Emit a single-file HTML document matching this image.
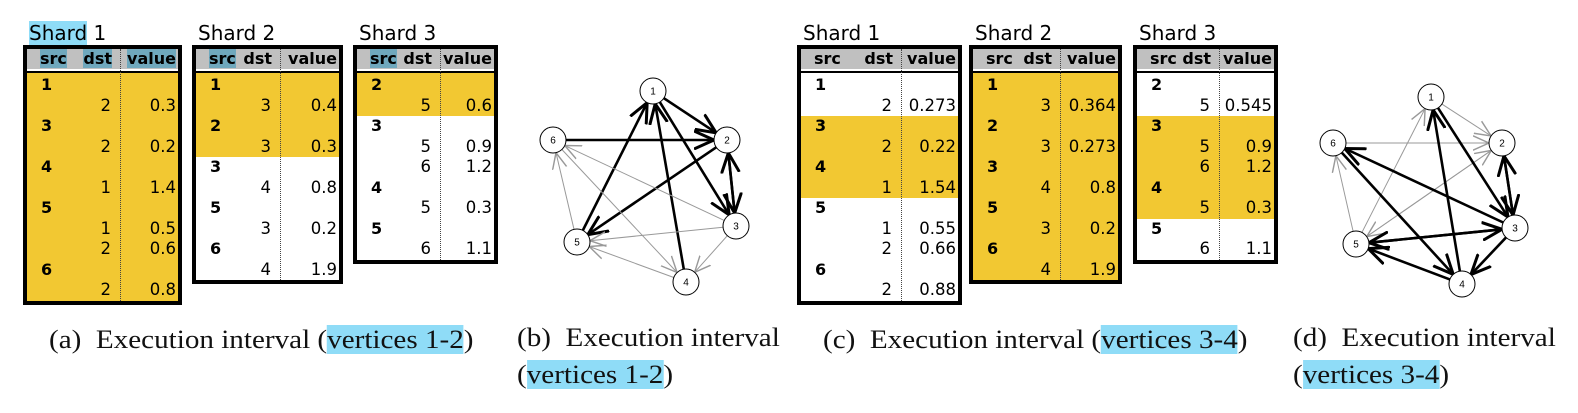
<!DOCTYPE html>
<html><head><meta charset="utf-8">
<style>
body{margin:0;width:1578px;height:413px;background:#fff;position:relative;overflow:hidden;font-family:"DejaVu Sans","Liberation Sans",sans-serif;}
.t{position:absolute;border:4px solid #000;box-sizing:border-box;background:#fff;overflow:hidden;}
.hd{position:absolute;left:0;right:0;top:0;height:20px;background:#c0c0c0;}
.dl{position:absolute;left:0;right:0;top:22px;height:2px;background:#000;}
.tx{position:absolute;font-size:16.5px;line-height:20px;color:#000;white-space:nowrap;}
.b{font-weight:bold;font-size:16px;}
.dv{position:absolute;top:0;bottom:0;width:0;border-left:1px dotted #444;}
.title{position:absolute;font-size:20px;line-height:22px;}
.cap{position:absolute;font-family:"Liberation Serif",serif;font-size:26px;line-height:34px;white-space:nowrap;color:#111;transform:scaleX(1.12);transform-origin:0 0;}
.hl{background:#8fdcf7;}
.hb{background:#6fa8bd;}
</style></head><body>
<div id="root"></div>
<svg id="g" width="1578" height="413" style="position:absolute;left:0;top:0">
<defs>
<marker id="mk" viewBox="0 0 10 10" refX="10" refY="5" markerWidth="20" markerHeight="20" markerUnits="userSpaceOnUse" orient="auto"><path d="M0,0.5 L10,5 L0,9.5" fill="none" stroke="#000" stroke-width="1.5"/></marker>
<marker id="mg" viewBox="0 0 10 10" refX="10" refY="5" markerWidth="16" markerHeight="16" markerUnits="userSpaceOnUse" orient="auto"><path d="M0,0.5 L10,5 L0,9.5" fill="none" stroke="#999" stroke-width="0.9"/></marker>
</defs>
</svg>
<div class="cap" style="left:49px;top:323px">(a)&nbsp; Execution interval (<span class="hl">vertices 1-2</span>)</div>
<div class="cap" style="left:517px;top:321px">(b)&nbsp; Execution interval</div>
<div class="cap" style="left:517px;top:358px">(<span class="hl">vertices 1-2</span>)</div>
<div class="cap" style="left:823px;top:323px">(c)&nbsp; Execution interval (<span class="hl">vertices 3-4</span>)</div>
<div class="cap" style="left:1293px;top:321px">(d)&nbsp; Execution interval</div>
<div class="cap" style="left:1293px;top:358px">(<span class="hl">vertices 3-4</span>)</div>
<script>
var root=document.getElementById('root');
var RH=20.5;
function table(title,titleHl,x,w,div,rows,hs,he,hdHl){
  var h=26+rows.length*RH+8;
  var s='<div class="title" style="left:'+(x+6)+'px;top:22px">'+(titleHl?'<span class="hl">Shard</span> ':'Shard ')+title+'</div>';
  s+='<div class="t" style="left:'+x+'px;top:45px;width:'+w+'px;height:'+h+'px">';
  s+='<div class="hd"></div><div class="dl"></div>';
  var y0=26;
  if(hs>=0){var top=y0+hs*RH-(hs==0?2:0);var hh2=(he-hs+1)*RH+(hs==0?2:0);if(he>=rows.length-1)hh2+=10;
    s+='<div style="position:absolute;left:0;right:0;top:'+top+'px;height:'+hh2+'px;background:#f2c832"></div>';}
  var iw=w-8, dvx=div-x-4;
  s+='<div class="dv" style="left:'+dvx+'px"></div>';
  var hh=function(t){return hdHl.indexOf(t)>=0?'<span class="hb">'+t+'</span>':t;};
  s+='<div class="tx b" style="left:13px;top:0">'+hh('src')+'</div>';
  s+='<div class="tx b" style="right:'+(iw-dvx+8)+'px;top:0">'+hh('dst')+'</div>';
  s+='<div class="tx b" style="right:2px;top:0">'+hh('value')+'</div>';
  rows.forEach(function(r,i){
    var ty=y0+i*RH;
    if(r.length==1) s+='<div class="tx b" style="left:14px;top:'+ty+'px">'+r[0]+'</div>';
    else{
      s+='<div class="tx" style="right:'+(iw-dvx+9)+'px;top:'+ty+'px">'+r[0]+'</div>';
      s+='<div class="tx" style="right:2px;top:'+ty+'px">'+r[1]+'</div>';
    }
  });
  s+='</div>';
  root.insertAdjacentHTML('beforeend',s);
}
function R(a){return a.split('|').map(function(e){return e.split(',');});}
table('1',true,23,159,120,R('1|2,0.3|3|2,0.2|4|1,1.4|5|1,0.5|2,0.6|6|2,0.8'),0,10,['src','dst','value']);
table('2',false,192,151,280,R('1|3,0.4|2|3,0.3|3|4,0.8|5|3,0.2|6|4,1.9'),0,3,['src']);
table('3',false,353,145,440,R('2|5,0.6|3|5,0.9|6,1.2|4|5,0.3|5|6,1.1'),0,1,['src']);
table('1',false,797,165,901,R('1|2,0.273|3|2,0.22|4|1,1.54|5|1,0.55|2,0.66|6|2,0.88'),2,5,[]);
table('2',false,969,153,1060,R('1|3,0.364|2|3,0.273|3|4,0.8|5|3,0.2|6|4,1.9'),0,9,[]);
table('3',false,1133,145,1219,R('2|5,0.545|3|5,0.9|6,1.2|4|5,0.3|5|6,1.1'),2,6,[]);

var svg=document.getElementById('g');
var NS='http://www.w3.org/2000/svg';
function graph(P,edges){
  edges.forEach(function(e){
    var a=P[e[0]],b=P[e[1]],dx=b[0]-a[0],dy=b[1]-a[1],L=Math.hypot(dx,dy),ux=dx/L,uy=dy/L,r=13;
    var l=document.createElementNS(NS,'line');
    l.setAttribute('x1',a[0]+ux*r);l.setAttribute('y1',a[1]+uy*r);
    l.setAttribute('x2',b[0]-ux*r);l.setAttribute('y2',b[1]-uy*r);
    if(e[2]){l.setAttribute('stroke','#000');l.setAttribute('stroke-width','2.6');l.setAttribute('marker-end','url(#mk)');}
    else{l.setAttribute('stroke','#999');l.setAttribute('stroke-width','1');l.setAttribute('marker-end','url(#mg)');}
    svg.appendChild(l);
  });
  for(var k in P){
    var c=document.createElementNS(NS,'circle');
    c.setAttribute('cx',P[k][0]);c.setAttribute('cy',P[k][1]);c.setAttribute('r',13);
    c.setAttribute('fill','#fff');c.setAttribute('stroke','#000');c.setAttribute('stroke-width','1');
    svg.appendChild(c);
    var t=document.createElementNS(NS,'text');
    t.setAttribute('x',P[k][0]);t.setAttribute('y',P[k][1]+3.5);t.setAttribute('text-anchor','middle');
    t.setAttribute('font-size','10');t.setAttribute('font-family','Liberation Sans, sans-serif');t.textContent=k;
    svg.appendChild(t);
  }
}
graph({1:[653,91],2:[727,140],3:[736,226],4:[686,282],5:[577,242],6:[553,140]},
 [[1,2,1],[6,2,1],[1,3,1],[2,3,1],[3,2,1],[5,1,1],[4,1,1],[2,5,1],
  [3,6,0],[3,5,0],[3,4,0],[4,5,0],[5,6,0],[6,4,0]]);
graph({1:[1431,97],2:[1502,143],3:[1515,228],4:[1462,284],5:[1356,244],6:[1333,143]},
 [[1,2,0],[6,2,0],[5,1,0],[5,6,0],[2,5,0],[5,2,0],
  [1,3,1],[2,3,1],[3,2,1],[4,1,1],[3,6,1],[6,4,1],[3,5,1],[5,3,1],[3,4,1],[4,5,1]]);
</script>
</body></html>
